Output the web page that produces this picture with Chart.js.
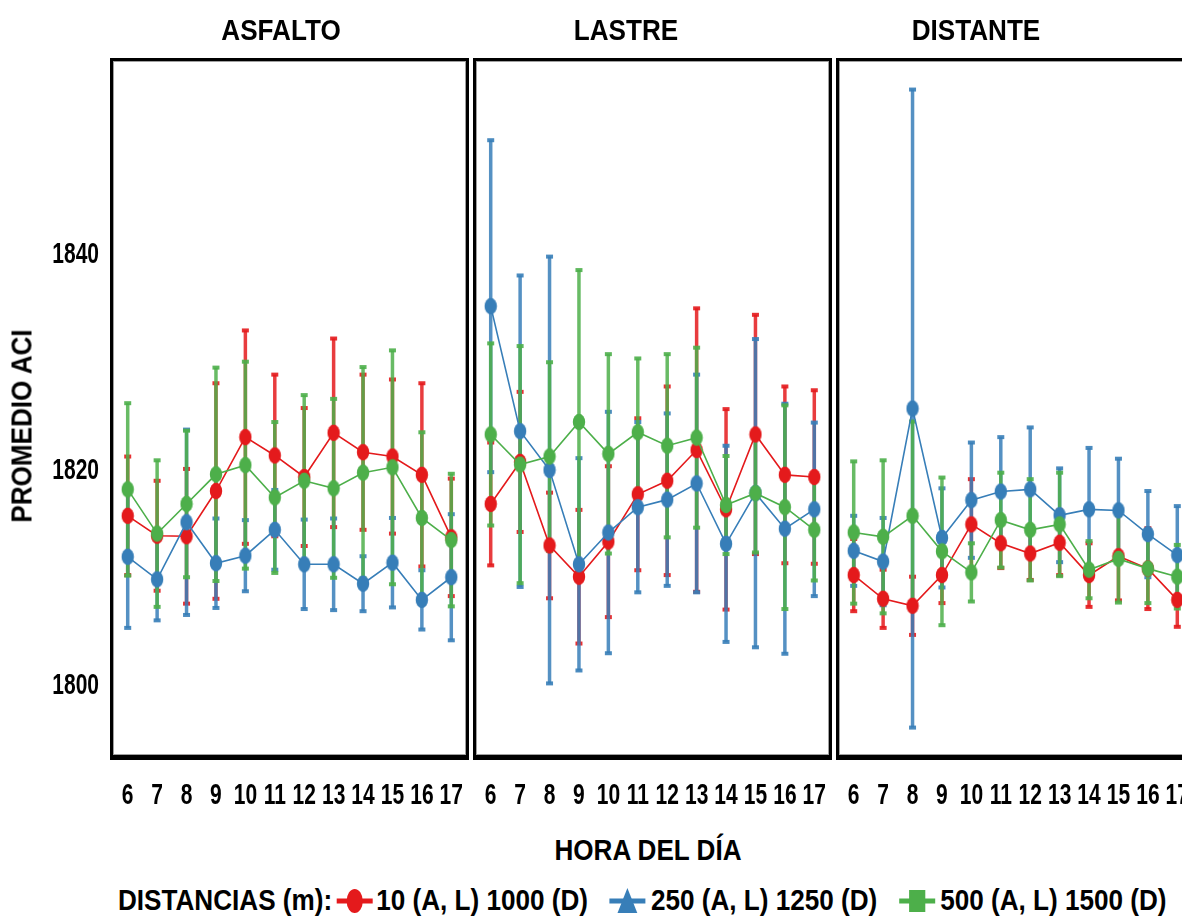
<!DOCTYPE html>
<html lang="es">
<head>
<meta charset="utf-8">
<title>Promedio ACI por hora del día</title>
<script src="https://cdn.jsdelivr.net/npm/chart.js@4.4.1/dist/chart.umd.min.js"></script>
<style>
  html, body { margin: 0; padding: 0; background: #fff; }
  body { width: 1182px; height: 917px; overflow: hidden; position: relative;
         font-family: 'Liberation Sans', Arial, sans-serif; font-weight: bold; color: #000; }
  canvas { position: absolute; top: 0; }
  .t { position: absolute; white-space: nowrap; font-size: 29px; line-height: 1; }
  .panel-title { top: 16px; transform: translateX(-50%) scaleX(0.9); }
  #ytitle { left: 22px; top: 426px; transform: translate(-50%, -50%) rotate(-90deg) scaleX(0.9); }
  #xtitle { left: 648px; top: 836px; transform: translateX(-50%) scaleX(0.9); }
  #legend { position: absolute; left: 118px; top: 886px; display: flex; align-items: center;
            font-size: 29px; line-height: 1; white-space: nowrap;
            transform: scaleX(0.9); transform-origin: 0 50%; }
  #legend svg { display: block; }
</style>
</head>
<body>
<canvas id="c0" width="470" height="820" style="left:0px"></canvas>
<canvas id="c1" width="363" height="820" style="left:470px"></canvas>
<canvas id="c2" width="363" height="820" style="left:833px"></canvas>

<div class="t panel-title" id="p0" style="left:281px"></div>
<div class="t panel-title" id="p1" style="left:626px"></div>
<div class="t panel-title" id="p2" style="left:976px"></div>
<div class="t" id="ytitle">PROMEDIO ACI</div>
<div class="t" id="xtitle">HORA DEL DÍA</div>
<div id="legend"></div>

<script>
// Hours of the day on the x axis
const horas = ['6', '7', '8', '9', '10', '11', '12', '13', '14', '15', '16', '17'];
const paneles = ['ASFALTO', 'LASTRE', 'DISTANTE'];
const distancias = ['10 (A, L) 1000 (D)', '250 (A, L) 1250 (D)', '500 (A, L) 1500 (D)'];
const yTicks = [1800, 1820, 1840];

// ASFALTO: mean ACI and half-width of the error bar
const asfalto10 = [1815.7, 1813.85, 1813.8, 1818.0, 1823.0, 1821.3, 1819.3, 1823.4, 1821.6, 1821.2, 1819.5, 1813.7];
const asfalto10Err = [5.5, 5.1, 6.25, 10.0, 9.9, 7.5, 6.4, 8.75, 7.2, 7.15, 8.5, 5.45];
const asfalto250 = [1811.9, 1809.8, 1815.1, 1811.3, 1812.0, 1814.4, 1811.2, 1811.2, 1809.4, 1811.35, 1807.9, 1810.0];
const asfalto250Err = [6.6, 3.8, 8.6, 4.15, 3.3, 3.7, 4.15, 4.25, 2.55, 4.15, 2.75, 5.85];
const asfalto500 = [1818.15, 1814.05, 1816.8, 1819.55, 1820.4, 1817.4, 1818.95, 1818.25, 1819.7, 1820.2, 1815.5, 1813.45];
const asfalto500Err = [8.0, 6.8, 6.8, 9.9, 9.6, 7.0, 7.95, 8.3, 9.8, 10.85, 7.95, 6.15];

// LASTRE
const lastre10 = [1816.8, 1820.7, 1812.95, 1810.05, 1813.3, 1817.7, 1818.95, 1821.8, 1816.3, 1823.25, 1819.5, 1819.3];
const lastre10Err = [5.7, 6.5, 4.9, 6.2, 7.0, 7.05, 8.75, 13.15, 9.3, 11.1, 8.2, 8.05];
const lastre250 = [1835.15, 1823.55, 1819.95, 1811.2, 1814.15, 1816.5, 1817.2, 1818.7, 1813.1, 1817.8, 1814.5, 1816.3];
const lastre250Err = [15.4, 14.45, 19.8, 9.85, 11.2, 7.9, 8.0, 10.1, 9.1, 14.3, 11.6, 8.05];
const lastre500 = [1823.25, 1820.45, 1821.2, 1824.4, 1821.45, 1823.45, 1822.2, 1822.95, 1816.7, 1817.8, 1816.5, 1814.4];
const lastre500Err = [8.45, 11.0, 8.75, 14.1, 9.25, 6.85, 8.5, 8.35, 4.55, 5.5, 9.45, 4.7];

// DISTANTE (1000, 1250 and 1500 m)
const distante1000 = [1810.2, 1808.0, 1807.35, 1810.2, 1814.9, 1813.15, 1812.2, 1813.2, 1810.2, 1811.95, 1810.8, 1807.9];
const distante1000Err = [3.35, 2.7, 2.7, 2.6, 4.2, 2.3, 2.45, 3.0, 2.95, 4.1, 3.75, 2.5];
const distante1250 = [1812.45, 1811.45, 1825.65, 1813.65, 1817.15, 1817.95, 1818.15, 1815.75, 1816.3, 1816.2, 1814.0, 1812.05];
const distante1250Err = [3.25, 4.05, 29.6, 4.6, 5.35, 5.05, 5.75, 4.35, 5.7, 4.8, 4.0, 4.55];
const distante1500 = [1814.15, 1813.75, 1815.7, 1812.4, 1810.45, 1815.3, 1814.4, 1814.9, 1810.7, 1811.7, 1810.8, 1810.05];
const distante1500Err = [6.6, 7.1, 8.75, 6.85, 2.7, 4.4, 4.7, 4.8, 2.65, 4.05, 3.2, 2.95];

const colores = ['#e41a1c', '#377eb8', '#4daf4a'];
const Y_MIN = 1793.6, Y_MAX = 1857.9;
const TICK_FONT = 'bold 30px "Liberation Sans", Arial, sans-serif';
const TICK_SQUEEZE = 0.7;   // condensed tick numerals

// Oval marker used for every point
function ovalMarker(color) {
  const c = document.createElement('canvas');
  c.width = 14; c.height = 18;
  const g = c.getContext('2d');
  g.fillStyle = color;
  g.beginPath();
  g.ellipse(7, 9, 6.2, 8.2, 0, 0, Math.PI * 2);
  g.fill();
  return c;
}

function withAlpha(hex, a) {
  const n = parseInt(hex.slice(1), 16);
  return `rgba(${n >> 16}, ${(n >> 8) & 255}, ${n & 255}, ${a})`;
}

// Vertical error bars with small caps, placed through the chart scales
const errorBarPlugin = {
  id: 'errorBars',
  beforeDatasetsDraw(chart) {
    const { ctx, scales: { x, y } } = chart;
    ctx.save();
    // red first, then blue, green on top
    [0, 1, 2].forEach(di => {
      const ds = chart.data.datasets[di];
      ctx.strokeStyle = withAlpha(ds.baseColor, 0.85);
      ctx.fillStyle = withAlpha(ds.baseColor, 0.9);
      ctx.lineWidth = 3.5;
      ds.data.forEach((v, i) => {
        const e = ds.errors[i];
        const px = x.getPixelForValue(i);
        const yt = y.getPixelForValue(v + e);
        const yb = y.getPixelForValue(v - e);
        ctx.beginPath();
        ctx.moveTo(px, yt);
        ctx.lineTo(px, yb);
        ctx.stroke();
        ctx.fillRect(px - 3.5, yt - 2, 7, 4);
        ctx.fillRect(px - 3.5, yb - 2, 7, 4);
      });
    });
    ctx.restore();
  }
};

// Black panel frame with a thin grey inner rule
const framePlugin = {
  id: 'panelFrame',
  afterDraw(chart) {
    const { ctx, chartArea: a } = chart;
    const w = a.right - a.left, h = a.bottom - a.top;
    ctx.save();
    ctx.fillStyle = '#000';
    ctx.fillRect(a.left - 3, a.top - 3, w + 6, 3);
    ctx.fillRect(a.left - 3, a.top - 3, 3, h + 9);
    ctx.fillRect(a.right, a.top - 3, 3, h + 9);
    ctx.fillRect(a.left - 3, a.bottom + 1, w + 6, 5);
    ctx.strokeStyle = '#a0a0a0';
    ctx.lineWidth = 1;
    ctx.strokeRect(a.left + 0.5, a.top + 0.5, w - 1, h);
    ctx.restore();
  }
};

// Condensed tick numerals, positioned from the chart's own scales
const tickLabelPlugin = {
  id: 'narrowTicks',
  afterDraw(chart) {
    const { ctx, scales: { x, y } } = chart;
    ctx.save();
    ctx.fillStyle = '#000';
    ctx.font = TICK_FONT;
    ctx.textBaseline = 'middle';
    ctx.textAlign = 'center';
    x.ticks.forEach((t, i) => {
      ctx.save();
      ctx.translate(x.getPixelForTick(i), x.top + 42);
      ctx.scale(TICK_SQUEEZE, 1);
      ctx.fillText(x.getLabelForValue(t.value), 0, 0);
      ctx.restore();
    });
    if (y.options.display) {
      ctx.textAlign = 'right';
      y.ticks.forEach(t => {
        ctx.save();
        ctx.translate(y.right - 14, y.getPixelForValue(t.value) + 1);
        ctx.scale(TICK_SQUEEZE, 1);
        ctx.fillText(String(t.value), 0, 0);
        ctx.restore();
      });
    }
    ctx.restore();
  }
};

function makePanel(id, series, errs, showY, padLeft) {
  const datasets = series.map((d, k) => ({
    label: distancias[k],
    data: d,
    errors: errs[k],
    baseColor: colores[k],
    borderColor: colores[k],
    backgroundColor: colores[k],
    borderWidth: 1.6,
    pointStyle: ovalMarker(colores[k]),
    pointRadius: 7,
    tension: 0,
    order: 2 - k
  }));
  return new Chart(document.getElementById(id), {
    type: 'line',
    data: { labels: horas, datasets },
    options: {
      responsive: false,
      animation: false,
      events: [],
      layout: { autoPadding: false, padding: { top: 61, left: padLeft, right: 4, bottom: 0 } },
      plugins: { legend: { display: false }, tooltip: { enabled: false } },
      scales: {
        x: {
          type: 'category',
          offset: true,
          grid: { display: false, drawTicks: false },
          border: { display: false },
          ticks: { display: false, autoSkip: false, maxRotation: 0 },
          afterFit(s) { s.height = 66; }
        },
        y: {
          display: showY,
          min: Y_MIN,
          max: Y_MAX,
          grid: { display: false, drawTicks: false },
          border: { display: false },
          ticks: { display: false },
          afterBuildTicks(s) { s.ticks = yTicks.map(v => ({ value: v })); },
          afterFit(s) { s.width = showY ? 113 : 0; }
        }
      }
    },
    plugins: [errorBarPlugin, framePlugin, tickLabelPlugin]
  });
}

makePanel('c0', [asfalto10, asfalto250, asfalto500], [asfalto10Err, asfalto250Err, asfalto500Err], true, 0);
makePanel('c1', [lastre10, lastre250, lastre500], [lastre10Err, lastre250Err, lastre500Err], false, 6);
makePanel('c2', [distante1000, distante1250, distante1500], [distante1000Err, distante1250Err, distante1500Err], false, 6);

paneles.forEach((p, i) => { document.getElementById('p' + i).textContent = p; });

// Legend: label, then one icon + text per distance
const legend = document.getElementById('legend');
const shapes = ['circle', 'triangle', 'square'];
const head = document.createElement('span');
head.textContent = 'DISTANCIAS (m):';
legend.appendChild(head);
distancias.forEach((txt, k) => {
  const ns = 'http://www.w3.org/2000/svg';
  const svg = document.createElementNS(ns, 'svg');
  svg.setAttribute('width', '44'); svg.setAttribute('height', '28');
  svg.style.margin = k === 0 ? '0 2px 0 3px' : '0 4px 0 22px';
  const ln = document.createElementNS(ns, 'line');
  ln.setAttribute('x1', '2'); ln.setAttribute('x2', '42');
  ln.setAttribute('y1', '14'); ln.setAttribute('y2', '14');
  ln.setAttribute('stroke', colores[k]); ln.setAttribute('stroke-width', '5');
  svg.appendChild(ln);
  let m;
  if (shapes[k] === 'circle') {
    m = document.createElementNS(ns, 'ellipse');
    m.setAttribute('cx', '22'); m.setAttribute('cy', '14');
    m.setAttribute('rx', '9'); m.setAttribute('ry', '12');
  } else if (shapes[k] === 'triangle') {
    m = document.createElementNS(ns, 'polygon');
    m.setAttribute('points', '22,1 33,26 11,26');
  } else {
    m = document.createElementNS(ns, 'rect');
    m.setAttribute('x', '13'); m.setAttribute('y', '3');
    m.setAttribute('width', '18'); m.setAttribute('height', '22');
  }
  m.setAttribute('fill', colores[k]);
  svg.appendChild(m);
  legend.appendChild(svg);
  const s = document.createElement('span');
  s.textContent = txt;
  legend.appendChild(s);
});
</script>
</body>
</html>
